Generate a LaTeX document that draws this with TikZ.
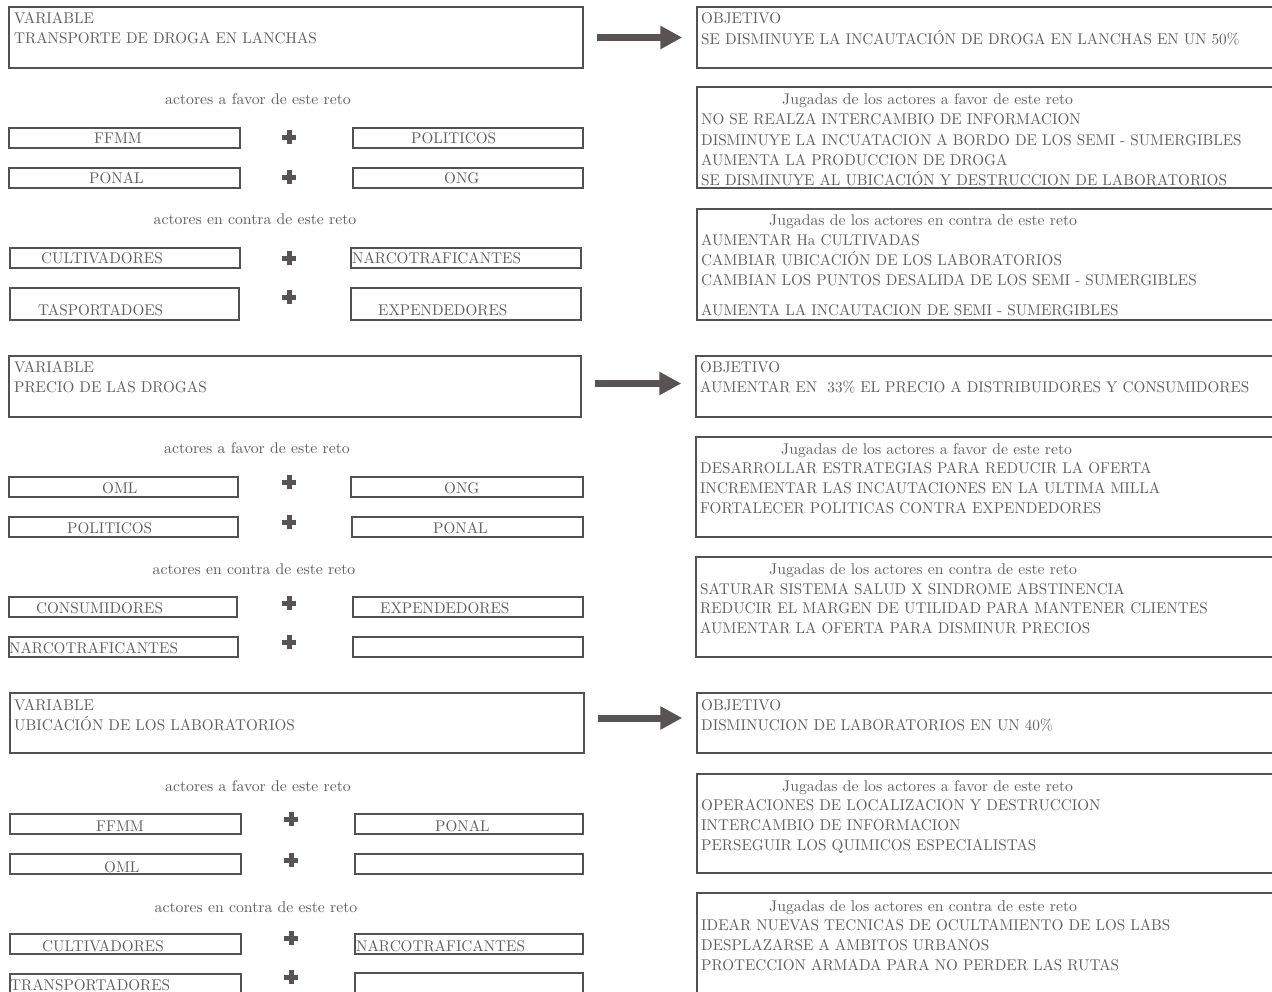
\documentclass[tikz,border=0pt]{standalone}
\usepackage{fontspec}
\setmainfont{lmroman10-regular.otf}[FakeStretch=0.98]
\newfontfamily\retofont{lmroman10-regular.otf}[FakeStretch=1.015]
\usepackage{tikz}
\usetikzlibrary{arrows.meta,%
                fit,%
                calc%
              }
\definecolor{lineagris}{HTML}{525252}
\definecolor{textogris}{HTML}{5E5E5E}
\definecolor{flechagris}{HTML}{5A5353}

%% big boxes: name/x1/y1/x2/y2
\def\setofcajas{var1/9/7/583/68, obj1/697/7/1290/68, fav1/697/87/1290/188,
  con1/697/209/1290/320, var2/9/356/581/417, obj2/696/356/1290/417,
  fav2/696/437/1290/537, con2/696/557/1290/657, var3/10/693/584/753,
  obj3/697/693/1290/753, fav3/697/774/1290/873, con3/697/893/1290/1000}

%% text lines of the big boxes: x/baseline/text
\def\setoflineas{%
  14/23/VARIABLE,%
  14/43/TRANSPORTE DE DROGA EN LANCHAS,%
  701/23/OBJETIVO,%
  701/44/SE DISMINUYE LA INCAUTACIÓN DE DROGA EN LANCHAS EN UN 50\%,%
  701/124/NO SE REALZA INTERCAMBIO DE INFORMACION,%
  701/145/DISMINUYE LA INCUATACION A BORDO DE LOS SEMI - SUMERGIBLES,%
  701/165/AUMENTA LA PRODUCCION DE DROGA,%
  701/185/SE DISMINUYE AL UBICACIÓN Y DESTRUCCION DE LABORATORIOS,%
  701/245/AUMENTAR Ha CULTIVADAS,%
  701/265/CAMBIAR UBICACIÓN DE LOS LABORATORIOS,%
  701/285/CAMBIAN LOS PUNTOS DESALIDA DE LOS SEMI - SUMERGIBLES,%
  701/315/AUMENTA LA INCAUTACION DE SEMI - SUMERGIBLES,%
  % second variable
  14/372/VARIABLE,%
  14/392/PRECIO DE LAS DROGAS,%
  700/372/OBJETIVO,%
  700/392/AUMENTAR EN\ \ 33\% EL PRECIO A DISTRIBUIDORES Y CONSUMIDORES,%
  700/473/DESARROLLAR ESTRATEGIAS PARA REDUCIR LA OFERTA,%
  700/493/INCREMENTAR LAS INCAUTACIONES EN LA ULTIMA MILLA,%
  700/513/FORTALECER POLITICAS CONTRA EXPENDEDORES,%
  700/594/SATURAR SISTEMA SALUD X SINDROME ABSTINENCIA,%
  700/613/REDUCIR EL MARGEN DE UTILIDAD PARA MANTENER CLIENTES,%
  700/633/AUMENTAR LA OFERTA PARA DISMINUR PRECIOS,%
  % third variable
  14/710/VARIABLE,%
  14/730/UBICACIÓN DE LOS LABORATORIOS,%
  701/710/OBJETIVO,%
  701/730/DISMINUCION DE LABORATORIOS EN UN 40\%,%
  701/810/OPERACIONES DE LOCALIZACION Y DESTRUCCION,%
  701/830/INTERCAMBIO DE INFORMACION,%
  701/850/PERSEGUIR LOS QUIMICOS ESPECIALISTAS,%
  701/930/IDEAR NUEVAS TECNICAS DE OCULTAMIENTO DE LOS LABS,%
  701/950/DESPLAZARSE A AMBITOS URBANOS,%
  701/970/PROTECCION ARMADA PARA NO PERDER LAS RUTAS%
}

%% titles of the jugadas boxes: x/baseline/text
\def\setoftitulos{782/104/Jugadas de los actores a favor de este reto,%
  769/225/Jugadas de los actores en contra de este reto,%
  781/454/Jugadas de los actores a favor de este reto,%
  769/574/Jugadas de los actores en contra de este reto,%
  782/791/Jugadas de los actores a favor de este reto,%
  769/911/Jugadas de los actores en contra de este reto}

%% headings over the actor boxes: centre x/baseline/text
\def\setofretos{258/104/actores a favor de este reto,%
  255/224/actores en contra de este reto,%
  257/453/actores a favor de este reto,%
  254/574/actores en contra de este reto,%
  258/791/actores a favor de este reto,%
  256/912/actores en contra de este reto}

%% actor boxes: name/x1/y1/x2/y2/text x/baseline/text
\def\setofactores{%
  a1/9/128/240/148/94/143/FFMM,%
  b1/353/128/583/148/411/143/POLITICOS,%
  c1/9/168/240/188/89/183/PONAL,%
  d1/353/168/583/188/444/183/ONG,%
  e1/10/248/240/268/41/263/CULTIVADORES,%
  f1/351/248/581/268/352/263/NARCOTRAFICANTES,%
  g1/10/288/239/320/38/315/TASPORTADOES,%
  h1/351/288/581/320/378/315/EXPENDEDORES,%
  a2/9/477/238/497/102/493/OML,%
  b2/351/477/583/497/444/493/ONG,%
  c2/9/517/238/537/67/533/POLITICOS,%
  d2/352/517/583/537/433/533/PONAL,%
  e2/9/597/237/617/36/613/CONSUMIDORES,%
  f2/353/597/583/617/380/613/EXPENDEDORES,%
  g2/9/637/238/657/9/653/NARCOTRAFICANTES,%
  a3/10/814/241/834/96/831/FFMM,%
  b3/355/814/583/834/435/831/PONAL,%
  c3/10/854/241/874/104/872/OML,%
  e3/10/934/241/954/42/951/CULTIVADORES,%
  f3/355/934/583/954/356/951/NARCOTRAFICANTES,%
  g3/10/974/241/1000/10/990/TRANSPORTADORES%
}
%% empty actor boxes
\def\setofvacios{h2/353/637/583/657, d3/355/854/583/874, h3/355/973/583/1000}

%% plus signs: x/y
\def\setofmas{289/137, 289/177, 289/258, 289/297, 289/482, 289/522,
  289/603, 289/642, 291/819, 291/860, 291/938, 291/977}

\begin{document}
\begin{tikzpicture}[x=1pt, y=-1pt,
    caja/.style={draw=lineagris, line width=1.4pt, inner sep=0pt},
    texto/.style={inner sep=0pt, anchor=base west, text=textogris,
      font=\fontsize{15.5}{18}\selectfont},
    titulo/.style={texto, font=\retofont\fontsize{15.5}{18}\selectfont},
    reto/.style={titulo, anchor=base},
    mas/.style={minimum size=16pt, inner sep=0pt, path picture={%
        \fill[flechagris]
          ([xshift=-7pt,yshift=-2.5pt]path picture bounding box.center)
          rectangle ([xshift=7pt,yshift=2.5pt]path picture bounding box.center);
        \fill[flechagris]
          ([xshift=-2.5pt,yshift=-7pt]path picture bounding box.center)
          rectangle ([xshift=2.5pt,yshift=7pt]path picture bounding box.center);
      }},
    flecha/.style={draw=flechagris, line width=7pt,
      -{Triangle[length=22pt,width=22pt]}, shorten <=13pt, shorten >=14pt}]

    \useasboundingbox (0,0) rectangle (1272,991);
    \clip (0,0) rectangle (1272,991);
    \fill[white] (0,0) rectangle (1272,991);

    %% DRAW BIG BOXES
    \foreach \n/\xa/\ya/\xb/\yb in \setofcajas {%
      \node[caja, fit={(\xa,\ya) (\xb,\yb)}] (\n) {};%
    }
    \foreach \x/\y/\t [count=\i] in \setoflineas {%
      \node[texto] (l\i) at (\x,\y) {\t};%
    }
    \foreach \x/\y/\t [count=\i] in \setoftitulos {%
      \node[titulo] (j\i) at (\x,\y) {\t};%
    }

    %% DRAW ACTORS
    \foreach \x/\y/\t [count=\i] in \setofretos {%
      \node[reto] (r\i) at (\x,\y) {\t};%
    }
    \foreach \n/\xa/\ya/\xb/\yb/\tx/\ty/\t in \setofactores {%
      \node[caja, fit={(\xa,\ya) (\xb,\yb)}] (\n) {};%
      \node[texto] (t\n) at (\tx,\ty) {\t};%
    }
    \foreach \n/\xa/\ya/\xb/\yb in \setofvacios {%
      \node[caja, fit={(\xa,\ya) (\xb,\yb)}] (\n) {};%
    }
    \foreach \x/\y [count=\i] in \setofmas {%
      \node[mas] (m\i) at (\x,\y) {};%
    }

    %% ARROWS VARIABLE -> OBJETIVO
    \foreach \s/\dy in {1/0, 2/3, 3/5} {%
      \draw[flecha] ([yshift=\dy pt]var\s.east) -- ([yshift=\dy pt]obj\s.west);%
    }

\end{tikzpicture}
\end{document}
